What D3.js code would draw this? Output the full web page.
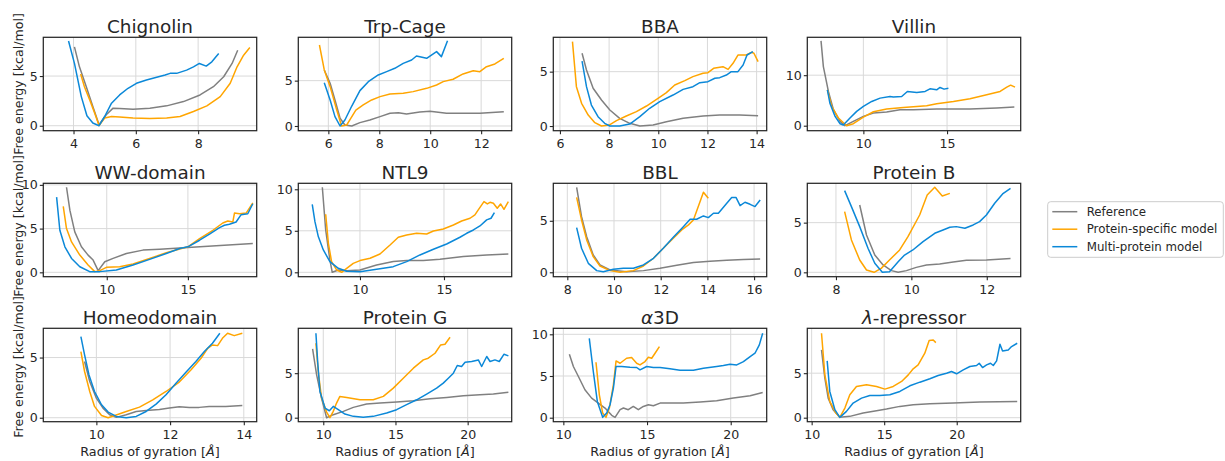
<!DOCTYPE html>
<html>
<head>
<meta charset="utf-8">
<script src="https://cdn.jsdelivr.net/npm/d3@7"></script>
<style>
  body { margin: 0; background: #fff; }
  text { font-family: "DejaVu Sans", sans-serif; fill: #262626; }
</style>
</head>
<body>
<script>
// free energy profiles, [radius of gyration, kcal/mol]
const chignolinRef = [[4.03,7.93],[4.19,5.93],[4.41,3.93],[4.62,1.93],[4.82,0.1],[5.05,1.1],[5.27,1.77],[5.48,1.73],[5.91,1.67],[6.45,1.77],[6.99,2.0],[7.53,2.43],[8.06,3.1],[8.49,3.93],[8.82,4.93],[9.09,6.27],[9.27,7.6]];
const chignolinSpec = [[4.23,5.2],[4.35,3.93],[4.52,2.6],[4.68,1.27],[4.82,0.03],[5.0,0.77],[5.22,0.93],[5.48,0.87],[5.91,0.77],[6.45,0.73],[6.99,0.77],[7.42,0.93],[7.85,1.43],[8.28,2.0],[8.71,2.93],[9.03,4.27],[9.25,5.93],[9.46,7.1],[9.66,7.87]];
const chignolinMulti = [[3.84,8.53],[4.03,6.27],[4.25,2.93],[4.43,1.0],[4.62,0.27],[4.82,0],[5.0,0.93],[5.22,2.27],[5.48,3.1],[5.75,3.77],[6.02,4.27],[6.34,4.6],[6.67,4.87],[6.94,5.1],[7.1,5.27],[7.31,5.27],[7.63,5.6],[7.85,5.93],[8.04,6.27],[8.26,6.0],[8.44,6.43],[8.66,7.27]];

const trpRef = [[5.84,6.18],[6.07,4.71],[6.26,2.87],[6.46,0.85],[6.65,0.11],[6.92,0],[7.24,0.37],[7.63,0.66],[8.03,1.03],[8.42,1.4],[8.75,1.47],[9.07,1.32],[9.59,1.54],[9.99,1.62],[10.64,1.4],[11.29,1.4],[11.95,1.4],[12.89,1.58]];
const trpSpec = [[5.65,8.93],[5.84,6.18],[6.07,4.34],[6.33,1.76],[6.52,0],[6.72,0.11],[6.88,0.85],[7.08,1.76],[7.37,2.32],[7.7,2.87],[8.03,3.24],[8.42,3.53],[8.94,3.6],[9.33,3.79],[9.86,4.15],[10.25,4.52],[10.51,4.89],[10.9,5.15],[11.29,5.74],[11.69,6.1],[11.95,5.99],[12.21,6.54],[12.54,6.84],[12.89,7.46]];
const trpMulti = [[5.84,4.78],[6.07,2.87],[6.26,1.03],[6.46,0],[6.65,0.66],[6.92,2.2],[7.24,3.9],[7.57,4.89],[7.96,5.63],[8.29,5.99],[8.61,6.36],[8.94,6.91],[9.27,7.28],[9.46,7.72],[9.86,7.46],[10.25,8.2],[10.44,7.65],[10.68,9.41]];

const bbaRef = [[6.9,6.69],[7.08,5.15],[7.35,3.47],[7.69,2.39],[8.03,1.47],[8.43,0.71],[8.84,0.25],[9.25,0],[9.79,0.09],[10.33,0.4],[11.01,0.71],[11.82,0.92],[12.5,1.01],[13.31,1.01],[14.06,0.95]];
const bbaSpec = [[6.51,7.76],[6.67,3.62],[6.88,2.09],[7.15,1.01],[7.42,0.31],[7.69,0],[8.0,0.09],[8.3,0.49],[8.7,0.92],[9.11,1.32],[9.52,1.84],[9.99,2.55],[10.33,3.07],[10.67,3.77],[11.08,4.17],[11.41,4.54],[11.82,4.85],[12.02,4.91],[12.25,5.31],[12.63,5.46],[12.84,5.21],[13.04,5.77],[13.24,6.53],[13.58,6.53],[13.79,6.78],[13.89,6.69],[14.06,5.92]];
const bbaMulti = [[6.9,5.98],[7.08,3.62],[7.28,1.93],[7.55,0.86],[7.82,0.25],[8.03,0],[8.43,0],[8.84,0.18],[9.25,0.86],[9.65,1.63],[10.06,2.24],[10.6,2.85],[11.01,3.37],[11.41,3.62],[11.69,3.99],[12.02,4.08],[12.3,4.39],[12.5,4.45],[12.77,4.69],[12.97,5.0],[13.24,5.0],[13.45,5.61],[13.61,6.53],[13.85,6.84]];

const villinRef = [[7.47,16.8],[7.61,11.7],[7.91,6.78],[8.21,3.16],[8.61,0.86],[8.9,0],[9.4,0.86],[10,1.84],[10.6,2.5],[11.39,2.7],[12.19,3.16],[12.99,3.16],[14.38,3.29],[16.37,3.29],[17.97,3.49],[19.02,3.68]];
const villinSpec = [[7.85,7.1],[8.11,3.82],[8.51,1.51],[9.0,0],[9.4,0.39],[10,1.71],[10.6,2.76],[11.39,3.29],[12.39,3.62],[13.78,3.95],[14.38,4.34],[15.38,4.8],[16.37,5.33],[17.37,6.12],[18.17,6.78],[18.57,7.63],[18.8,8.03],[19.06,7.63]];
const villinMulti = [[7.85,7.1],[8.0,4.47],[8.31,1.84],[8.61,0.39],[8.8,0.13],[9.2,1.51],[9.6,2.83],[10,3.82],[10.5,4.8],[11,5.46],[11.59,5.79],[11.79,5.66],[12.29,5.79],[12.63,6.78],[13.19,6.58],[13.69,6.78],[13.98,7.3],[14.38,7.1],[14.58,7.57],[14.82,7.24],[15.08,7.43]];

const wwRef = [[7.52,9.73],[7.73,7.08],[8.03,4.62],[8.44,2.92],[8.85,1.97],[9.16,1.4],[9.47,0.19],[9.88,1.21],[10.39,1.59],[11.21,2.16],[12.23,2.54],[13.26,2.65],[15,2.84],[16.74,3.03],[19.0,3.3]];
const wwSpec = [[7.32,7.54],[7.52,5.0],[7.83,3.48],[8.34,1.97],[8.85,0.83],[9.26,0.08],[9.57,0.19],[9.98,0.57],[10.8,0.64],[11.62,0.95],[12.64,1.59],[13.67,2.23],[15,2.92],[15.72,3.86],[16.54,4.81],[17.15,5.64],[17.46,5.87],[17.77,5.76],[17.87,6.78],[18.18,6.7],[18.59,6.78],[19.0,7.95]];
const wwMulti = [[6.91,8.6],[7.11,4.81],[7.42,2.92],[7.83,1.59],[8.34,0.64],[8.95,0.08],[9.57,0.08],[10.59,0.27],[11.62,0.83],[12.64,1.48],[13.67,2.16],[14.49,2.73],[15,2.92],[15.72,3.67],[16.33,4.36],[16.95,5.11],[17.25,5.38],[17.56,5.49],[17.97,5.76],[18.28,6.59],[18.69,6.7],[19.0,7.84]];

const ntl9Ref = [[7.76,10.24],[7.96,5.1],[8.21,1.49],[8.35,0],[8.71,0.28],[9.21,0.2],[10,0.28],[10.99,0.88],[11.98,1.29],[12.78,1.41],[13.77,1.41],[14.76,1.57],[16.15,1.89],[17.54,2.09],[18.83,2.21]];
const ntl9Spec = [[7.96,6.99],[8.12,3.49],[8.31,1.29],[8.61,0.28],[8.91,0],[9.21,0.48],[9.6,1.08],[10,1.41],[10.6,1.69],[11.19,2.21],[11.79,3.29],[12.28,4.22],[12.78,4.5],[13.37,4.7],[13.97,4.62],[14.37,4.98],[14.96,5.22],[15.56,5.7],[16.05,6.18],[16.55,6.51],[16.84,6.91],[17.04,7.51],[17.38,8.51],[17.58,8.23],[17.74,8.43],[17.94,8.31],[18.17,7.71],[18.37,8.23],[18.57,7.59],[18.83,8.51]];
const ntl9Multi = [[7.16,8.19],[7.32,6.1],[7.52,4.3],[7.82,2.69],[8.21,1.29],[8.71,0.48],[9.21,0.12],[10,0.08],[10.99,0.36],[11.98,0.68],[12.78,1.29],[13.57,2.09],[14.37,2.77],[15.16,3.41],[15.95,4.22],[16.35,4.7],[16.75,5.1],[17.14,5.58],[17.54,6.31],[17.8,6.51],[18.0,7.19]];

const bblRef = [[8.4,8.25],[8.61,5.4],[8.83,3.46],[9.11,1.68],[9.4,0.71],[9.83,0.23],[10.54,0.06],[11.26,0.16],[11.97,0.39],[12.69,0.68],[13.4,0.94],[14.11,1.07],[14.83,1.17],[15.54,1.23],[16.26,1.29]];
const bblSpec = [[8.4,7.28],[8.61,5.08],[8.83,3.14],[9.11,1.52],[9.4,0.61],[9.83,0.16],[10.26,0],[10.83,0.16],[11.26,0.61],[11.69,1.36],[12.11,2.33],[12.54,3.3],[12.9,4.11],[13.19,4.6],[13.4,5.08],[13.61,6.38],[13.83,7.77],[14.04,7.18]];
const bblMulti = [[8.4,4.34],[8.61,2.33],[8.9,0.87],[9.26,0.16],[9.54,0.06],[9.97,0.29],[10.4,0.39],[10.83,0.39],[11.26,0.71],[11.69,1.36],[12.11,2.33],[12.54,3.4],[12.97,4.43],[13.26,5.15],[13.54,5.15],[13.83,5.47],[14.04,5.31],[14.26,5.73],[14.47,5.73],[14.83,6.7],[15.04,7.25],[15.23,7.25],[15.4,6.47],[15.61,6.8],[15.83,6.6],[16.04,6.38],[16.26,7.02]];

const proteinBRef = [[8.63,6.78],[8.81,3.76],[9.03,1.74],[9.25,0.74],[9.47,0.17],[9.65,0],[9.87,0.17],[10.13,0.5],[10.4,0.74],[10.75,0.84],[11.11,1.04],[11.46,1.21],[11.99,1.24],[12.63,1.38]];
const proteinBSpec = [[8.23,6.11],[8.41,3.26],[8.63,1.24],[8.81,0.23],[9.01,0],[9.2,0.4],[9.42,1.24],[9.69,2.25],[9.91,3.59],[10.22,5.77],[10.42,7.79],[10.62,8.56],[10.82,7.68],[11.02,7.95]];
const proteinBMulti = [[8.23,8.22],[8.41,6.61],[8.63,4.6],[8.85,2.42],[9.03,0.91],[9.23,0],[9.42,0.07],[9.65,1.07],[9.82,1.74],[10.04,2.25],[10.31,3.09],[10.62,3.93],[10.84,4.26],[11.02,4.53],[11.19,4.6],[11.42,4.43],[11.64,4.77],[11.81,5.1],[11.99,5.77],[12.21,6.95],[12.42,7.89],[12.63,8.46]];

const homeoRef = [[9.68,4.67],[9.82,3.01],[10,1.63],[10.18,0.8],[10.36,0.25],[10.54,0.03],[10.81,0.25],[11.08,0.52],[11.35,0.61],[11.71,0.69],[11.98,0.8],[12.25,0.91],[12.52,0.86],[12.79,0.86],[13.06,0.94],[13.51,0.94],[13.96,1.02]];
const homeoSpec = [[9.58,5.5],[9.68,3.84],[9.82,2.18],[9.95,0.94],[10.14,0.19],[10.32,0],[10.5,0.19],[10.81,0.52],[11.17,0.88],[11.53,1.49],[11.89,2.18],[12.25,2.96],[12.57,3.98],[12.84,4.94],[13.02,5.77],[13.15,6.05],[13.29,5.99],[13.42,6.6],[13.56,7.02],[13.74,6.82],[13.96,7.02]];
const homeoMulti = [[9.58,6.74],[9.68,5.22],[9.8,3.56],[9.95,2.18],[10.14,1.08],[10.32,0.47],[10.54,0.11],[10.81,0],[11.08,0.11],[11.35,0.52],[11.62,1.13],[11.89,1.91],[12.16,2.87],[12.43,3.78],[12.7,4.67],[12.93,5.5],[13.15,6.19],[13.35,7.02]];

const proteinGRef = [[9.26,7.72],[9.54,4.81],[9.88,2.2],[10.23,0],[10.69,0.34],[11.39,0.71],[12.08,1.16],[13.0,1.53],[13.93,1.64],[15.08,1.75],[16.24,1.9],[17.39,2.13],[18.55,2.28],[19.7,2.46],[20.85,2.57],[21.78,2.65],[22.82,2.87]];
const proteinGSpec = [[9.49,8.36],[9.65,5.19],[9.88,2.2],[10.23,0.63],[10.46,0],[10.69,0.71],[10.92,1.64],[11.15,2.39],[11.62,2.28],[12.54,2.01],[13.46,2.01],[14.16,2.39],[14.85,3.32],[15.54,4.44],[16.24,5.56],[16.93,6.49],[17.27,6.68],[17.74,7.24],[18.13,8.17],[18.43,8.25],[18.78,9.03]];
const proteinGMulti = [[9.49,9.48],[9.61,6.31],[9.77,2.95],[10.12,1.08],[10.42,0.78],[10.69,1.27],[11.04,0.9],[11.5,0.41],[12.08,0.15],[12.77,0.04],[13.46,0.15],[14.39,0.52],[15.08,0.9],[15.77,1.46],[16.47,2.01],[17.16,2.65],[17.85,3.32],[18.31,3.88],[18.66,4.44],[19.01,5.0],[19.28,5.86],[19.58,5.75],[19.82,6.23],[20.28,6.31],[20.74,6.49],[20.97,5.75],[21.32,6.87],[21.55,6.31],[21.89,6.49],[22.19,6.31],[22.52,7.13],[22.82,6.94]];

const a3dRef = [[10.36,7.61],[10.6,6.14],[10.9,4.94],[11.29,3.35],[11.69,2.35],[12.09,1.75],[12.49,1.16],[12.89,0.28],[13.09,0.04],[13.39,0.96],[13.59,1.16],[13.88,0.96],[14.18,1.35],[14.48,0.96],[14.78,1.35],[15.08,1.55],[15.38,1.43],[15.78,1.75],[16.37,1.75],[17.17,1.75],[18.17,1.87],[19.16,2.03],[20.16,2.35],[21.16,2.63],[21.91,3.03]];
const a3dSpec = [[11.95,6.65],[12.15,2.75],[12.35,0.56],[12.55,0.04],[12.75,1.16],[12.99,3.94],[13.15,6.81],[13.39,6.53],[13.78,7.13],[14.08,7.21],[14.38,6.53],[14.58,6.33],[14.88,6.73],[15.08,7.25],[15.28,7.13],[15.48,7.73],[15.74,8.53]];
const a3dMulti = [[11.55,9.52],[11.79,5.54],[12.03,1.95],[12.35,0.04],[12.59,0.56],[12.79,1.55],[12.99,3.55],[13.15,6.14],[13.49,6.14],[13.98,6.06],[14.38,6.02],[14.58,5.74],[14.98,6.14],[15.38,6.02],[15.78,6.02],[16.37,5.86],[16.97,5.7],[17.77,5.7],[18.37,5.94],[19.16,6.14],[19.56,6.25],[19.96,6.41],[20.36,6.33],[20.76,6.73],[21.16,7.33],[21.45,7.73],[21.71,8.73],[21.91,10.12]];

const lambdaRef = [[10.68,7.61],[10.91,4.44],[11.14,2.2],[11.48,0.9],[11.94,0.04],[12.63,0.15],[13.55,0.52],[14.47,0.78],[15.16,0.97],[16.08,1.27],[17.0,1.46],[18.15,1.57],[19.76,1.64],[21.6,1.75],[24.17,1.83]];
const lambdaSpec = [[10.68,9.48],[10.91,4.81],[11.25,1.83],[11.67,0.52],[11.94,0.04],[12.29,1.08],[12.63,2.57],[13.09,3.51],[13.78,3.69],[14.47,3.51],[15.05,3.21],[15.62,3.51],[16.2,4.07],[16.66,4.81],[17.0,5.49],[17.34,5.93],[17.8,7.24],[18.1,8.66],[18.38,8.73],[18.56,8.43]];
const lambdaMulti = [[11.07,6.38],[11.25,2.95],[11.6,0.9],[11.94,0.04],[12.4,0.71],[12.86,1.64],[13.44,2.2],[14.01,2.5],[14.7,2.5],[15.39,2.57],[16.08,2.95],[16.77,3.58],[17.46,3.99],[18.15,4.37],[18.72,4.74],[19.3,5.0],[19.64,5.19],[19.99,4.93],[20.45,5.37],[20.91,5.75],[21.37,5.86],[21.55,6.12],[21.78,5.63],[22.06,5.93],[22.33,6.12],[22.52,5.86],[22.75,6.38],[22.98,8.25],[23.16,7.5],[23.55,7.61],[23.78,7.99],[24.17,8.36]];

const titles = ["Chignolin", "Trp-Cage", "BBA", "Villin", "WW-domain", "NTL9", "BBL", "Protein B", "Homeodomain", "Protein G", "α3D", "λ-repressor"];
const refSeries = [chignolinRef, trpRef, bbaRef, villinRef, wwRef, ntl9Ref, bblRef, proteinBRef, homeoRef, proteinGRef, a3dRef, lambdaRef];
const specSeries = [chignolinSpec, trpSpec, bbaSpec, villinSpec, wwSpec, ntl9Spec, bblSpec, proteinBSpec, homeoSpec, proteinGSpec, a3dSpec, lambdaSpec];
const multiSeries = [chignolinMulti, trpMulti, bbaMulti, villinMulti, wwMulti, ntl9Multi, bblMulti, proteinBMulti, homeoMulti, proteinGMulti, a3dMulti, lambdaMulti];

const xDomains = [[3.03,9.88],[4.82,13.2],[5.73,14.41],[6.65,19.4],[6.09,19.24],[6.33,19.03],[7.4,16.54],[7.24,12.9],[8.56,14.35],[8.27,23.05],[9.4,22.15],[9.7,24.41]];
const yDomains = [[-0.5,8.9],[-0.52,9.78],[-0.43,8.16],[-0.99,17.5],[-0.5,10.18],[-0.53,10.72],[-0.43,8.64],[-0.44,8.96],[-0.33,7.43],[-0.45,10.04],[-0.48,10.72],[-0.45,10.04]];
const xTicks = [[4,6,8],[6,8,10,12],[6,8,10,12,14],[10,15],[10,15],[10,15],[8,10,12,14,16],[8,10,12],[10,12,14],[10,15,20],[10,15,20],[10,15,20]];
const yTicks = [[0,5],[0,5],[0,5],[0,10],[0,5,10],[0,5,10],[0,5],[0,5],[0,5],[0,5],[0,5,10],[0,5]];

const seriesNames = ["Reference", "Protein-specific model", "Multi-protein model"];
const colors = ["#808080", "#ffa500", "#0b88d8"];

const width = 1225, height = 461;
const colLeft = [43.3, 298.3, 553.3, 807.3];
const rowTop = [37.3, 183.3, 328.3];
const pw = 213.4, ph = 93.4;
const yLabelCenters = [84, 226, 367];

const svg = d3.select("body").append("svg")
  .attr("width", width)
  .attr("height", height);

titles.forEach((title, i) => {
  const col = i % 4, row = Math.floor(i / 4);
  const g = svg.append("g")
    .attr("transform", `translate(${colLeft[col]},${rowTop[row]})`);

  const x = d3.scaleLinear().domain(xDomains[i]).range([0, pw]);
  const y = d3.scaleLinear().domain(yDomains[i]).range([ph, 0]);

  // grid
  g.selectAll(".gx").data(xTicks[i]).enter().append("line")
    .attr("x1", d => x(d)).attr("x2", d => x(d))
    .attr("y1", 0).attr("y2", ph)
    .attr("stroke", "#d9d9d9").attr("stroke-width", 1);
  g.selectAll(".gy").data(yTicks[i]).enter().append("line")
    .attr("x1", 0).attr("x2", pw)
    .attr("y1", d => y(d)).attr("y2", d => y(d))
    .attr("stroke", "#d9d9d9").attr("stroke-width", 1);

  const line = d3.line().x(d => x(d[0])).y(d => y(d[1]));
  [refSeries[i], specSeries[i], multiSeries[i]].forEach((s, k) => {
    g.append("path")
      .datum(s)
      .attr("fill", "none")
      .attr("stroke", colors[k])
      .attr("stroke-width", 1.5)
      .attr("stroke-linejoin", "round")
      .attr("d", line);
  });

  g.append("rect")
    .attr("width", pw).attr("height", ph)
    .attr("fill", "none").attr("stroke", "#262626").attr("stroke-width", 1.25);

  const fmt = d3.format("d");
  const xAxis = g.append("g")
    .attr("transform", `translate(0,${ph})`)
    .call(d3.axisBottom(x).tickValues(xTicks[i]).tickFormat(fmt).tickSize(3.5).tickPadding(4.5));
  const yAxis = g.append("g")
    .call(d3.axisLeft(y).tickValues(yTicks[i]).tickFormat(fmt).tickSize(3.5).tickPadding(2));
  [xAxis, yAxis].forEach(a => {
    a.select(".domain").remove();
    a.selectAll("line").attr("stroke", "#262626").attr("stroke-width", 1.1);
    a.selectAll("text").attr("font-size", 12.6).attr("fill", "#262626")
      .attr("font-family", "DejaVu Sans, sans-serif");
  });

  const t = g.append("text")
    .attr("x", pw / 2).attr("y", -4.5)
    .attr("text-anchor", "middle")
    .attr("font-size", 18.4);
  if (title === "α3D" || title === "λ-repressor") {
    t.append("tspan").attr("font-style", "italic").text(title[0]);
    t.append("tspan").text(title.slice(1));
  } else {
    t.text(title);
  }

  if (row === 2) {
    const xl = g.append("text")
      .attr("x", pw / 2).attr("y", ph + 34.2)
      .attr("text-anchor", "middle")
      .attr("font-size", 12.8);
    xl.append("tspan").text("Radius of gyration [");
    xl.append("tspan").attr("font-style", "italic").text("Å");
    xl.append("tspan").text("]");
  }
});

yLabelCenters.forEach(cy => {
  svg.append("text")
    .attr("transform", `translate(22.5,${cy}) rotate(-90)`)
    .attr("text-anchor", "middle")
    .attr("font-size", 12.6)
    .text("Free energy [kcal/mol]");
});

// legend
const legend = svg.append("g").attr("transform", "translate(1047.7,201.7)");
legend.append("rect")
  .attr("width", 175.6).attr("height", 55.6)
  .attr("rx", 3)
  .attr("fill", "#fff").attr("stroke", "#cccccc").attr("stroke-width", 1);
seriesNames.forEach((name, k) => {
  const cy = 10 + k * 17.5;
  legend.append("line")
    .attr("x1", 4.6).attr("x2", 29.6)
    .attr("y1", cy).attr("y2", cy)
    .attr("stroke", colors[k]).attr("stroke-width", 1.5);
  legend.append("text")
    .attr("x", 39).attr("y", cy + 4.2)
    .attr("font-size", 11.8)
    .text(name);
});
</script>
</body>
</html>
